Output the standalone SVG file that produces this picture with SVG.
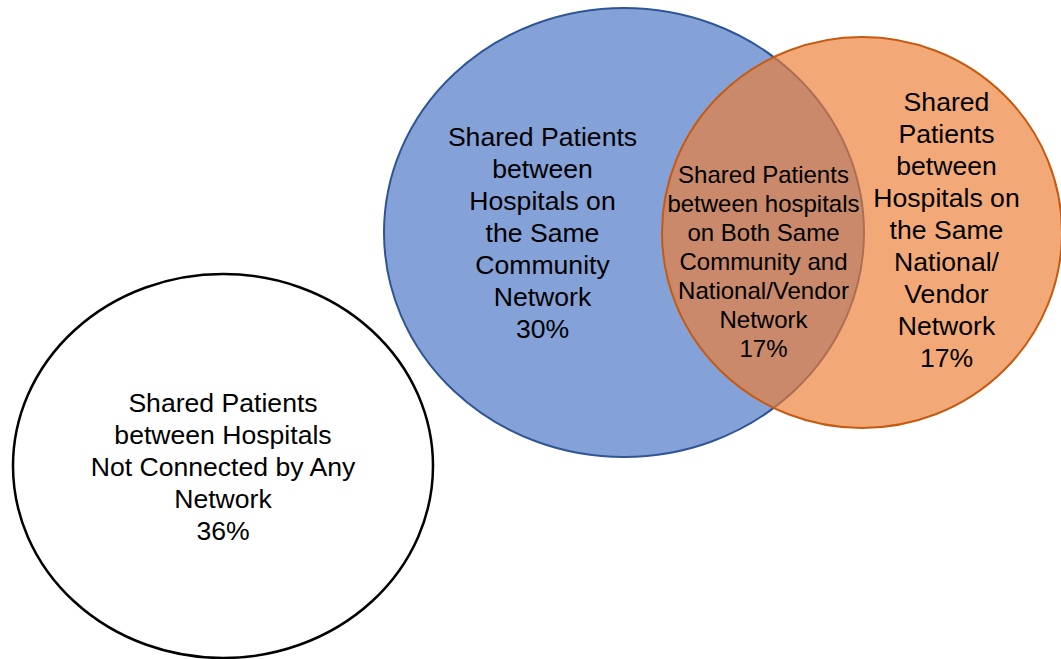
<svg xmlns="http://www.w3.org/2000/svg" width="1061" height="659" viewBox="0 0 1061 659">
<style>
  .lbl { font-family: "Liberation Sans", Arial, Helvetica, sans-serif; fill: #000; text-anchor: middle; }
  .big { font-size: 26.6px; }
  .small { font-size: 24px; }
</style>
<rect width="1061" height="659" fill="#ffffff"/>
<g id="no-network">
  <ellipse cx="223" cy="466" rx="210" ry="192" fill="#ffffff" stroke="#000000" stroke-width="2.5"/>
  <text class="lbl big"><tspan x="223" y="411.5">Shared Patients</tspan><tspan x="223" y="443.5">between Hospitals</tspan><tspan x="223" y="475.5">Not Connected by Any</tspan><tspan x="223" y="507.5">Network</tspan><tspan x="223" y="539.5">36%</tspan></text>
</g>
<g id="community">
  <ellipse cx="624" cy="232.5" rx="240" ry="224.5" fill="#4472C4" fill-opacity="0.66" stroke="#2F5597" stroke-width="2"/>
</g>
<g id="national">
  <ellipse cx="862" cy="232.5" rx="200" ry="195.5" fill="#ED7D31" fill-opacity="0.66" stroke="#C55A11" stroke-width="2"/>
</g>
<g id="community-label">
  <text class="lbl big"><tspan x="542.5" y="146">Shared Patients</tspan><tspan x="542.5" y="178">between</tspan><tspan x="542.5" y="210">Hospitals on</tspan><tspan x="542.5" y="242">the Same</tspan><tspan x="542.5" y="274">Community</tspan><tspan x="542.5" y="306">Network</tspan><tspan x="542.5" y="338">30%</tspan></text>
</g>
<g id="both">
  <text class="lbl small"><tspan x="763.5" y="183.3">Shared Patients</tspan><tspan x="763.5" y="212.2">between hospitals</tspan><tspan x="763.5" y="241.1">on Both Same</tspan><tspan x="763.5" y="270">Community and</tspan><tspan x="763.5" y="298.9">National/Vendor</tspan><tspan x="763.5" y="327.8">Network</tspan><tspan x="763.5" y="356.5">17%</tspan></text>
</g>
<g id="national-label">
  <text class="lbl big"><tspan x="946.5" y="111">Shared</tspan><tspan x="946.5" y="143">Patients</tspan><tspan x="946.5" y="175">between</tspan><tspan x="946.5" y="207">Hospitals on</tspan><tspan x="946.5" y="239">the Same</tspan><tspan x="946.5" y="271">National/</tspan><tspan x="946.5" y="303">Vendor</tspan><tspan x="946.5" y="335">Network</tspan><tspan x="946.5" y="367">17%</tspan></text>
</g>
</svg>
